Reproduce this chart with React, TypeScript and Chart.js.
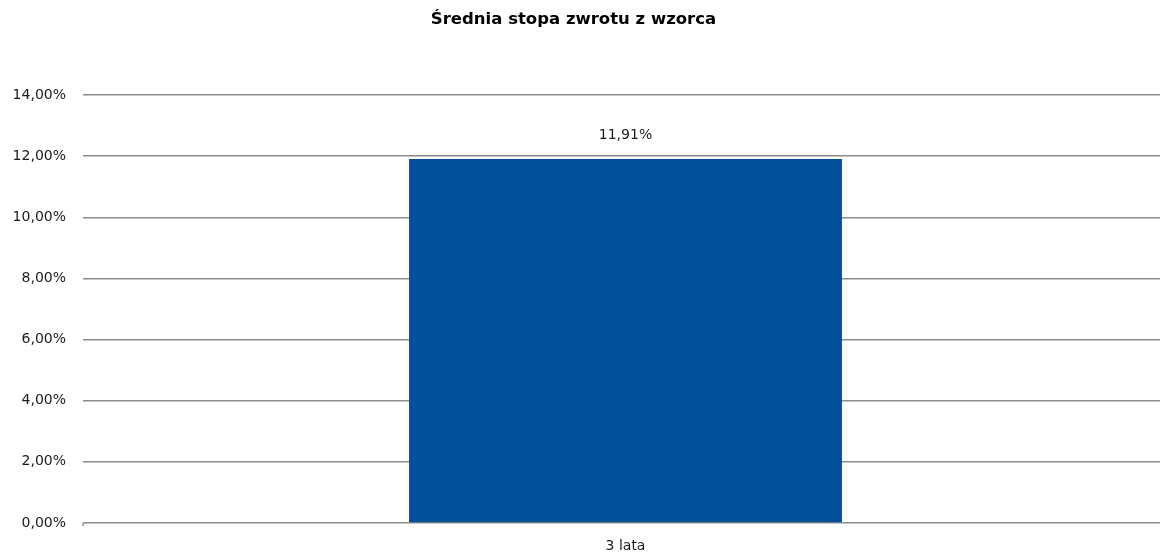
import React, { useEffect, useRef } from "react";
import { Chart, registerables } from "chart.js";

Chart.register(...registerables);

const title = "Średnia stopa zwrotu z wzorca";
const categories = ["3 lata"];
const values = [11.91];
const yTicks = [0, 2, 4, 6, 8, 10, 12, 14];

const fmt = (v: number) => v.toFixed(2).replace(".", ",") + "%";

const labelPlugin = {
  id: "barLabels",
  afterDatasetsDraw(chart: any) {
    const ctx = chart.ctx;
    const meta = chart.getDatasetMeta(0);
    ctx.save();
    ctx.font = "14px 'DejaVu Sans'";
    ctx.fillStyle = "#1a1a1a";
    ctx.textAlign = "center";
    ctx.textBaseline = "bottom";
    meta.data.forEach((bar: any, i: number) => {
      ctx.fillText(fmt(values[i]), bar.x, bar.y - 17);
    });
    ctx.textAlign = "center";
    ctx.textBaseline = "middle";
    ctx.fillStyle = "#000";
    ctx.font = "bold 16.5px 'DejaVu Sans'";
    ctx.fillText(title, 573.5, 20);
    const a = chart.chartArea;
    ctx.strokeStyle = "#8c8c8c";
    ctx.lineWidth = 1.5;
    ctx.beginPath();
    ctx.moveTo(a.left, a.bottom);
    ctx.lineTo(a.left, a.bottom + 3);
    ctx.stroke();
    ctx.restore();
  },
};

export default function App() {
  const ref = useRef<HTMLCanvasElement>(null);
  useEffect(() => {
    document.body.style.margin = "0";
    const chart = new Chart(ref.current!, {
      type: "bar",
      data: {
        labels: categories,
        datasets: [
          {
            data: values,
            backgroundColor: "#00519C",
            barPercentage: 0.399,
            categoryPercentage: 1,
          },
        ],
      },
      plugins: [labelPlugin],
      options: {
        responsive: false,
        animation: false,
        layout: { padding: { right: 0, left: 0, top: 95, bottom: 0 } },
        plugins: {
          legend: { display: false },
          tooltip: { enabled: false },
          title: { display: false },
        },
        scales: {
          x: {
            grid: { display: false },
            border: { display: false },
            ticks: {
              color: "#1a1a1a",
              font: { family: "'DejaVu Sans'", size: 14 },
              padding: 7,
            },
            afterFit: (s: any) => {
              s.height = 31;
            },
          },
          y: {
            min: 0,
            max: 14,
            afterBuildTicks: (s: any) => {
              s.ticks = yTicks.map((v) => ({ value: v }));
            },
            grid: {
              color: "#8c8c8c",
              lineWidth: 1.5,
              drawTicks: false,
            },
            border: { display: false },
            ticks: {
              color: "#1a1a1a",
              font: { family: "'DejaVu Sans'", size: 14 },
              padding: 17,
              callback: (v: any) => fmt(Number(v)),
            },
            afterFit: (s: any) => {
              s.width = 83;
            },
          },
        },
      },
    });
    return () => chart.destroy();
  }, []);
  return (
    <div style={{ width: 1160, height: 554, overflow: "hidden" }}>
      <canvas ref={ref} width={1168} height={554} />
    </div>
  );
}
